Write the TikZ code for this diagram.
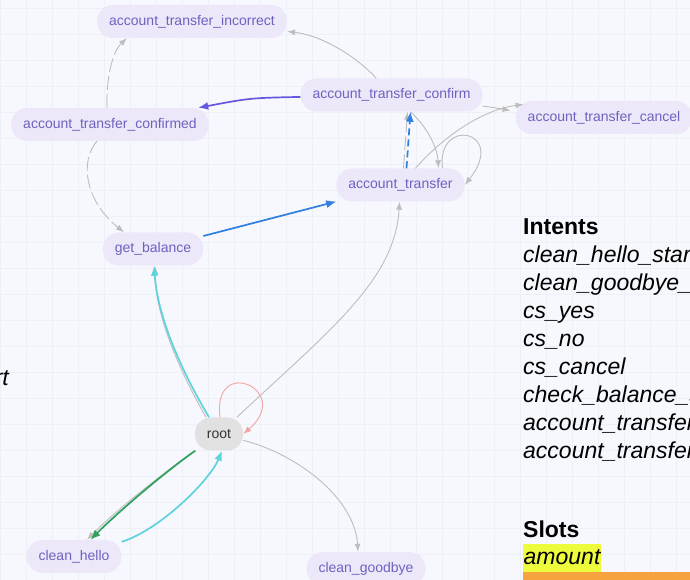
\documentclass[tikz,border=0pt]{standalone}
\usepackage{fontspec}
\setmainfont{Liberation Sans}
\usetikzlibrary{arrows.meta}

\definecolor{paper}{HTML}{F7F8FD}
\definecolor{gridc}{HTML}{EEF0F8}
\definecolor{statefill}{HTML}{ECE8F9}
\definecolor{statetext}{HTML}{6E62BF}
\definecolor{rootfill}{HTML}{E1E1E1}
\definecolor{edgegrey}{HTML}{BDBDBD}
\definecolor{cyanedge}{HTML}{5ED3DE}
\definecolor{blueedge}{HTML}{2F80E2}
\definecolor{purpleedge}{HTML}{6457E0}
\definecolor{greenedge}{HTML}{2FA15C}
\definecolor{pinkedge}{HTML}{EEA6A0}
\definecolor{hlyellow}{HTML}{EEFB3C}
\definecolor{hlorange}{HTML}{F6A23F}

\begin{document}
\begin{tikzpicture}[x=1pt,y=1pt,
  state/.style={rectangle,rounded corners=16pt,fill=statefill,text=statetext,
    minimum height=33pt,inner xsep=12pt,font=\fontsize{14}{16}\selectfont},
  rootstate/.style={state,fill=rootfill,text=black!80},
  link/.style={-{Latex[length=8pt,width=6pt]},draw=edgegrey,line width=0.9pt},
  flow/.style={-{Latex[length=10pt,width=8pt]},line width=1.7pt},
  longdash/.style={dash pattern=on 14pt off 4pt},
  head/.style={anchor=base west,inner sep=0pt,font=\fontsize{23}{28}\selectfont\bfseries},
  item/.style={anchor=base west,font=\fontsize{23}{28}\selectfont\itshape,inner sep=0pt}]

\useasboundingbox (0,0) rectangle (690,580);
\fill[paper] (0,0) rectangle (690,580);
\clip (0,0) rectangle (690,580);
\draw[gridc,step=26pt] (0,0) grid (690,580);

% states
\node[state] (incorrect) at (192,558.5) {account\_transfer\_incorrect};
\node[state] (confirmed) at (110,455.5) {account\_transfer\_confirmed};
\node[state] (confirm) at (391.5,485) {account\_transfer\_confirm};
\node[state] (cancel) at (604,462.5) {account\_transfer\_cancel};
\node[state] (transfer) at (400.5,395) {account\_transfer};
\node[state] (balance) at (153,331) {get\_balance};
\node[rootstate] (root) at (219,146) {root};
\node[state] (hello) at (74,23.5) {clean\_hello};
\node[state] (goodbye) at (366,11.5) {clean\_goodbye};

% transitions
\draw[link] ([xshift=-13]root.north) .. controls (173,221) and (155,271) .. ([xshift=2]balance.south);
\draw[flow,cyanedge] (root) .. controls (175,220) and (157,270) .. (balance);
\draw[link] (balance) -- (transfer);
\draw[flow,blueedge] (balance) -- (transfer);
\draw[link] (root) .. controls (330,250) and (395,300) .. (transfer);

\draw[link,longdash] ([xshift=3]transfer.north) -- ([xshift=16]confirm.south);
\draw[flow,blueedge,dashed,dash pattern=on 7pt off 4pt] ([xshift=6]transfer.north) -- ([xshift=19]confirm.south);
\draw[link] ([xshift=19]confirm.south) .. controls (425,455) and (437,435) .. ([xshift=38]transfer.north);
\draw[link] ([xshift=42]transfer.north) .. controls (436,464) and (508,450) .. (transfer.east);

\draw[link] (confirm) .. controls (490,473) .. ([xshift=-5,yshift=7]cancel.west);
\draw[link] ([xshift=15]transfer.north) .. controls (440,440) and (480,470) .. ([xshift=8,yshift=13]cancel.west);

\draw[flow,purpleedge] (confirm) .. controls (250,482) .. (confirmed);
\draw[link] (confirm) .. controls (355,525) and (320,545) .. (incorrect);
\draw[link,longdash] ([xshift=-3]confirmed.north) .. controls (106,500) and (112,528) .. ([xshift=-65]incorrect.south);
\draw[link,longdash] ([xshift=-13]confirmed.south) .. controls (80,420) and (84,380) .. ([xshift=-29]balance.north);

\draw[-{Latex[length=8pt,width=6pt]},pinkedge,line width=0.9pt] ([xshift=1]root.north) .. controls (212,226) and (294,190) .. (root.east);
\draw[link] (root) .. controls (163,107) and (114,68) .. ([xshift=13]hello.north);
\draw[flow,greenedge] (root) .. controls (165,108) and (118,68) .. (hello);
\draw[flow,cyanedge] (hello) .. controls (160,50) and (210,100) .. ([xshift=3]root.south);
\draw[link] (root) .. controls (300,125) and (355,80) .. ([xshift=-8]goodbye.north);

% legend
\node[item,anchor=base east] (startcut) at (9,194) {start};
\node[head] (intents) at (523,345) {Intents};
\node[item] (i1) at (523,317) {clean\_hello\_start};
\node[item] (i2) at (523,289) {clean\_goodbye\_start};
\node[item] (i3) at (523,261) {cs\_yes};
\node[item] (i4) at (523,233) {cs\_no};
\node[item] (i5) at (523,205) {cs\_cancel};
\node[item] (i6) at (523,177) {check\_balance\_start};
\node[item] (i7) at (523,149) {account\_transfer\_start};
\node[item] (i8) at (523,121) {account\_transfer\_confirm};
\node[head] (slots) at (523,42) {Slots};
\node[item,fill=hlyellow,text height=21pt,text depth=7pt,inner xsep=0.5pt] (amount) at (523,15) {amount};
\fill[hlorange] (523,0) rectangle (690,8);

\end{tikzpicture}
\end{document}
